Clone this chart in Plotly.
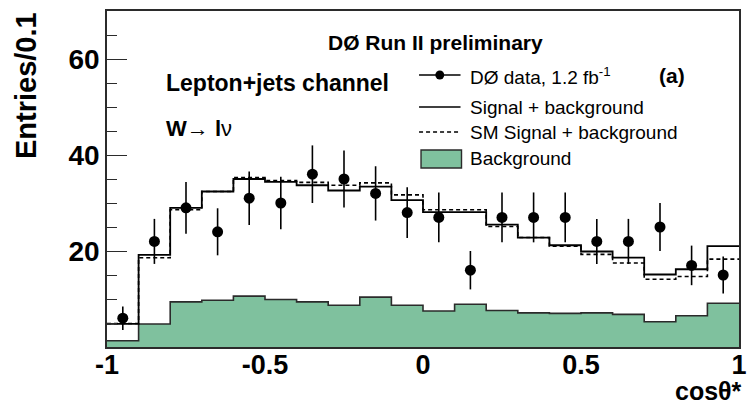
import numpy as np
import plotly.graph_objects as go

# cos(theta*) binning: 20 bins of width 0.1
bin_edges = np.round(np.linspace(-1.0, 1.0, 21), 2)
bin_centers = (bin_edges[:-1] + bin_edges[1:]) / 2

# Observed events per bin (DØ data, 1.2 fb^-1)
data_counts = [6, 22, 29, 24, 31, 30, 36, 35, 32, 28,
               27, 16, 27, 27, 27, 22, 22, 25, 17, 15]

# Fitted signal + background
sig_bkg = [4.8, 19.2, 29.0, 32.4, 35.0, 34.4, 33.7, 32.6, 33.4, 30.6,
           28.1, 28.1, 25.5, 22.8, 21.2, 19.9, 18.6, 15.1, 16.2, 21.0]

# Standard Model signal + background
sm_sig_bkg = [4.9, 18.6, 28.6, 32.4, 35.3, 34.7, 34.3, 33.7, 34.2, 31.7,
              28.6, 28.6, 25.1, 22.8, 21.0, 19.3, 17.5, 14.1, 14.7, 18.3]

# Background only
background = [1.3, 4.8, 9.4, 9.75, 10.6, 9.9, 9.4, 8.7, 10.4, 8.7,
              7.5, 8.9, 7.6, 7.1, 7.0, 7.1, 6.8, 5.25, 6.5, 9.1]

y_ticks = [20, 40, 60]
x_ticks = [-1, -0.5, 0, 0.5, 1]
x_tick_text = ["-1", "-0.5", "0", "0.5", "1"]

FONT = "Liberation Sans, Arial, Helvetica, sans-serif"
GREEN = "#7fc19e"
DARK = "#2b2b2b"

# page geometry (pixels)
W, H = 753, 407
L, R, T, B = 107, 6, 11, 60
PW, PH = W - L - R, H - T - B


def px(x):
    return (x - L) / PW


def py(y):
    return (H - B - y) / PH


def step_y(vals):
    return list(vals) + [vals[-1]]


fig = go.Figure()

# background histogram (filled)
fig.add_trace(go.Scatter(
    x=bin_edges, y=step_y(background), mode="lines",
    line=dict(shape="hv", color=DARK, width=1.6),
    fill="tozeroy", fillcolor=GREEN, showlegend=False, hoverinfo="skip"))

# SM signal + background (dashed)
fig.add_trace(go.Scatter(
    x=bin_edges, y=step_y(sm_sig_bkg), mode="lines",
    line=dict(shape="hv", color="black", width=1.6, dash="4px,3px"),
    showlegend=False, hoverinfo="skip"))

# signal + background (solid)
fig.add_trace(go.Scatter(
    x=bin_edges, y=step_y(sig_bkg), mode="lines",
    line=dict(shape="hv", color="black", width=1.8),
    showlegend=False, hoverinfo="skip"))

# data points with Poisson errors
fig.add_trace(go.Scatter(
    x=bin_centers, y=data_counts, mode="markers",
    marker=dict(symbol="circle", size=11, color="black"),
    error_y=dict(type="data", array=np.sqrt(data_counts), width=0,
                 thickness=1.6, color="black"),
    showlegend=False))

annotations = []
shapes = []


def text(x, y, s, size, bold=False, xanchor="left", **kw):
    annotations.append(dict(
        x=px(x), y=py(y), xref="paper", yref="paper", text=s,
        showarrow=False, xanchor=xanchor, yanchor="middle",
        font=dict(family=FONT, size=size, color="black",
                  weight="bold" if bold else "normal"), **kw))


text(440, 42, "DØ Run II preliminary", 21, bold=True, xanchor="center")
text(165, 83, "Lepton+jets channel", 23, bold=True)
text(165, 128, "<b>W</b>→ <b>l</b>ν", 22)
text(664, 75, "(a)", 21, bold=True)

# legend
leg_x0, leg_x1, leg_tx = 423, 465, 473
text(leg_tx, 76, "DØ data, 1.2 fb<sup>-1</sup>", 19)
text(leg_tx, 107, "Signal + background", 19)
text(leg_tx, 132, "SM Signal + background", 19)
text(leg_tx, 158, "Background", 19)

shapes.append(dict(type="line", xref="paper", yref="paper",
                   x0=px(leg_x0), x1=px(leg_x1), y0=py(75), y1=py(75),
                   line=dict(color="black", width=1.6)))
shapes.append(dict(type="circle", xref="paper", yref="paper",
                   x0=px(439.5), x1=px(448.5), y0=py(70.5), y1=py(79.5),
                   fillcolor="black", line=dict(color="black", width=0)))
shapes.append(dict(type="line", xref="paper", yref="paper",
                   x0=px(leg_x0), x1=px(leg_x1), y0=py(107), y1=py(107),
                   line=dict(color="black", width=1.6)))
shapes.append(dict(type="line", xref="paper", yref="paper",
                   x0=px(leg_x0), x1=px(leg_x1), y0=py(132), y1=py(132),
                   line=dict(color="black", width=1.6, dash="4px,3px")))
shapes.append(dict(type="rect", xref="paper", yref="paper",
                   x0=px(425), x1=px(466), y0=py(168), y1=py(150),
                   fillcolor=GREEN, line=dict(color=DARK, width=1.4)))

# axis titles
text(25, 86, "Entries/0.1", 29, bold=True, xanchor="center", textangle=-90)
annotations.append(dict(
    x=px(752), y=py(391), xref="paper", yref="paper", text="cosθ*",
    showarrow=False, xanchor="right", yanchor="middle",
    font=dict(family=FONT, size=25, color="black", weight="bold")))

fig.update_layout(
    width=W, height=H,
    margin=dict(l=L, r=R, t=T, b=B),
    paper_bgcolor="white", plot_bgcolor="white",
    showlegend=False,
    annotations=annotations, shapes=shapes,
    xaxis=dict(
        range=[-1, 1], tickvals=x_ticks, ticktext=x_tick_text,
        ticks="", showgrid=False, zeroline=False,
        showline=True, mirror=True, linecolor=DARK, linewidth=1.6,
        tickfont=dict(family=FONT, size=27, color="black", weight="bold"),
        ticklabelstandoff=-7, ticklabeloverflow="allow"),
    yaxis=dict(
        range=[0, 70], tickvals=y_ticks, ticks="inside", ticklen=20,
        tickwidth=1.4, tickcolor=DARK,
        minor=dict(dtick=5, tick0=0, ticks="inside", ticklen=10,
                   tickwidth=1.4, tickcolor=DARK, showgrid=False),
        showgrid=False, zeroline=False,
        showline=True, mirror=True, linecolor=DARK, linewidth=1.6,
        tickfont=dict(family=FONT, size=28, color="black", weight="bold"),
        ticklabelstandoff=0),
)

fig.write_html("out.html")
